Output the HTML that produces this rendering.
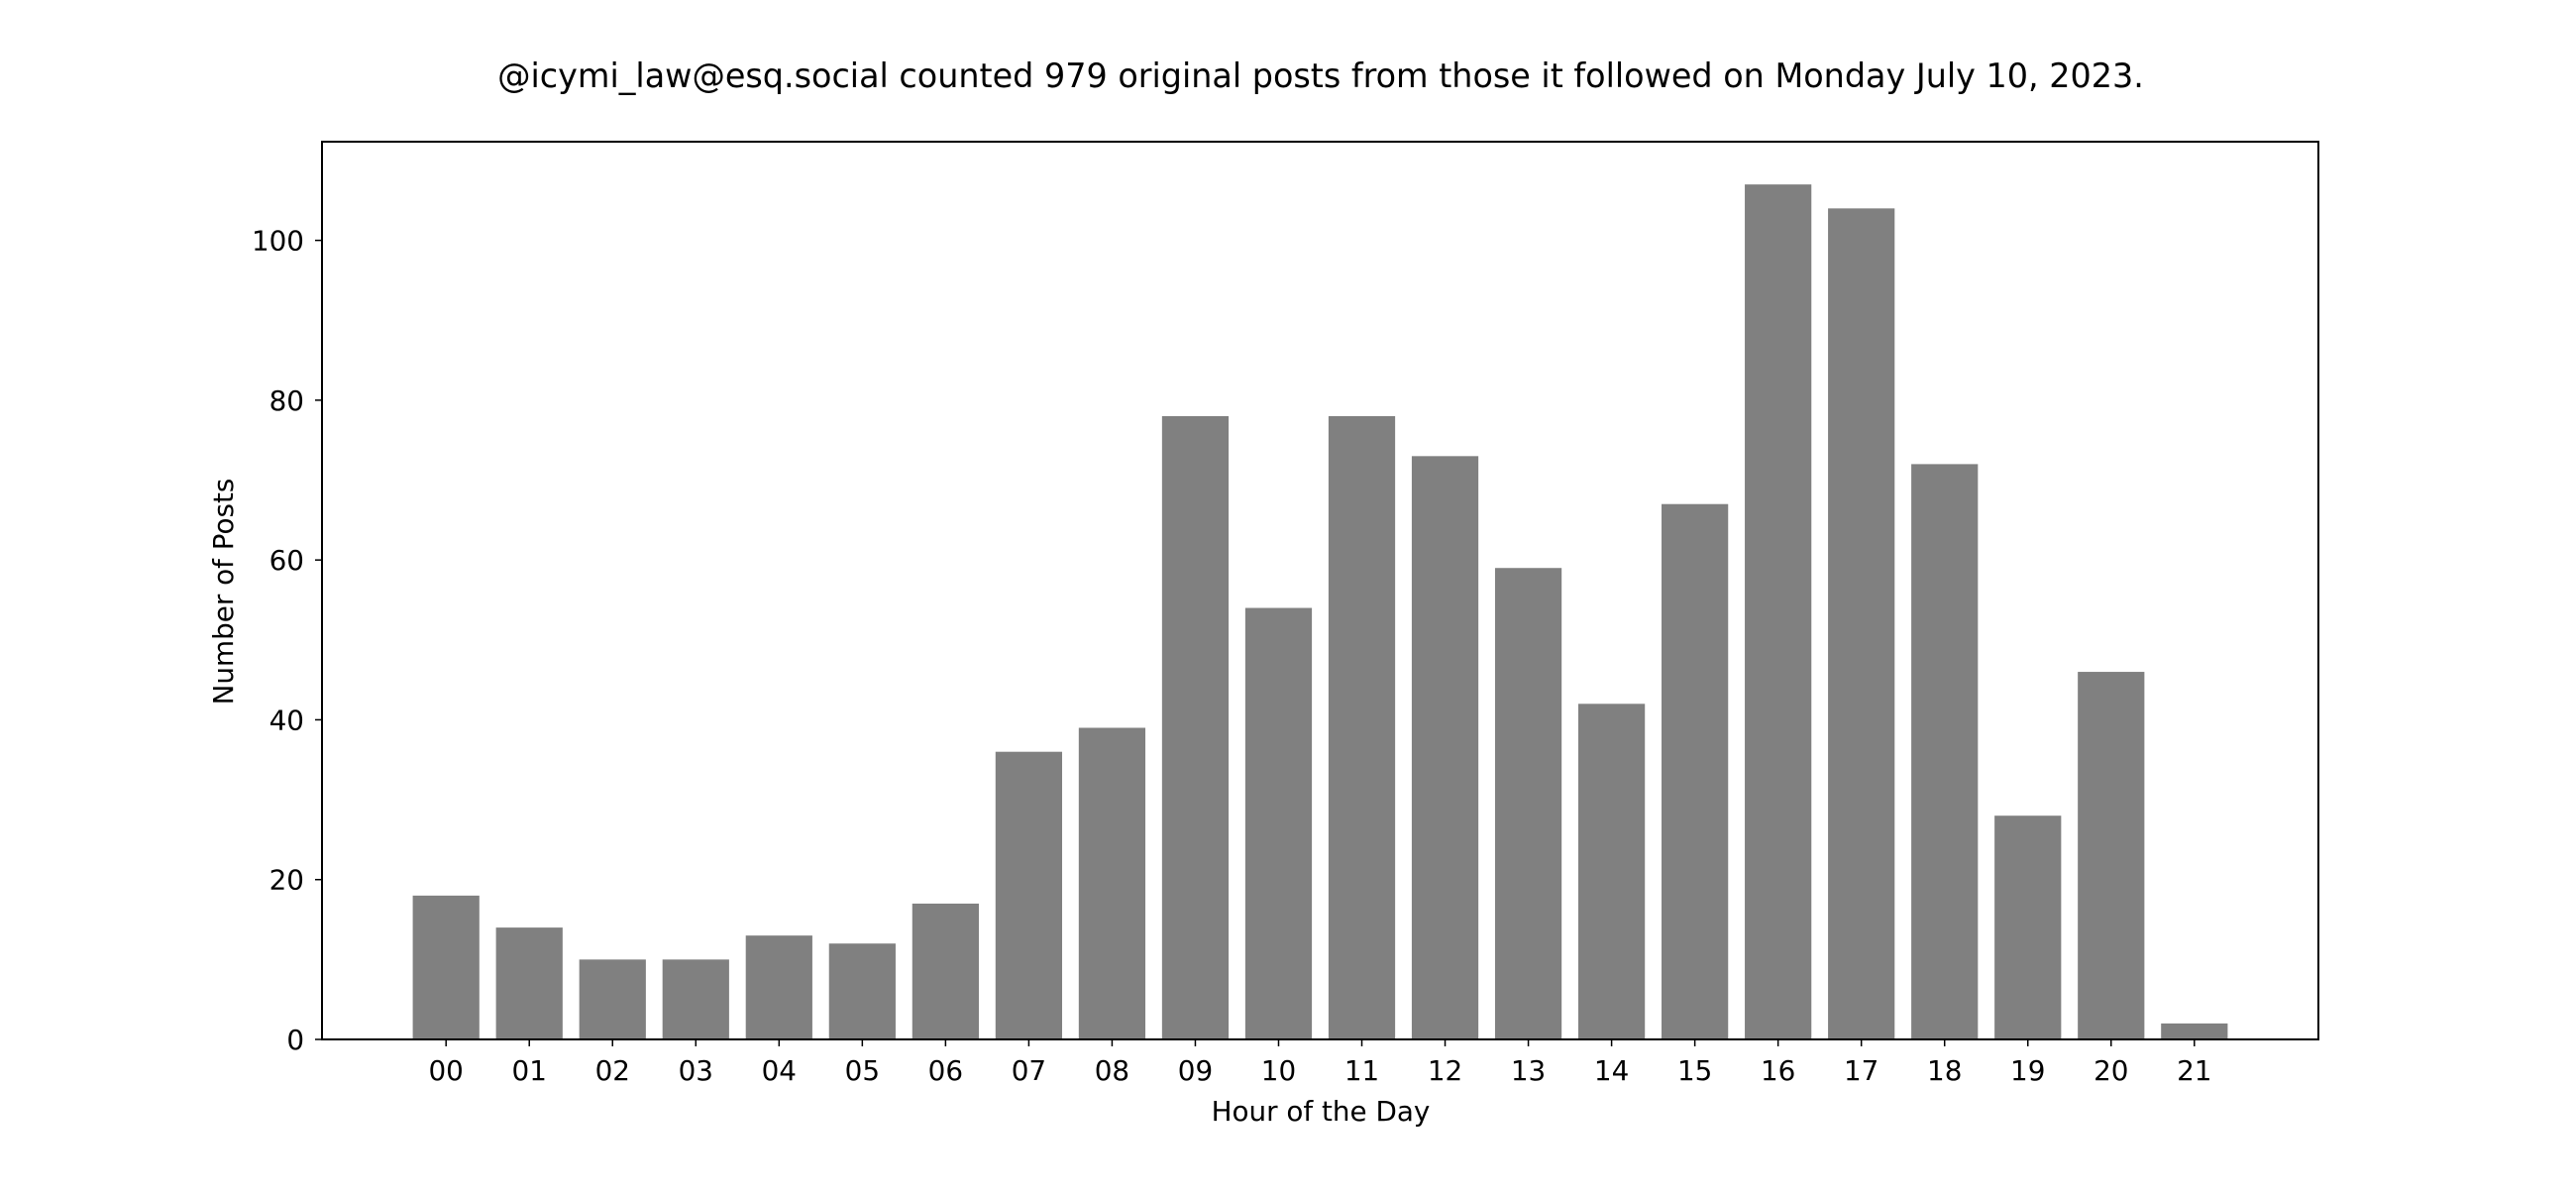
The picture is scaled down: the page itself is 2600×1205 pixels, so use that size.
<!DOCTYPE html>
<html><head><meta charset="utf-8"><style>
body{margin:0;background:#fff;}
svg text{font-family:"DejaVu Sans","Liberation Sans",sans-serif;fill:#000;}
</style></head><body>
<svg id="chart" width="2600" height="1200" xmlns="http://www.w3.org/2000/svg">
<rect width="2600" height="1200" fill="#fff"/>
<text x="1333" y="88" font-size="33.4" text-anchor="middle">@icymi_law@esq.social counted 979 original posts from those it followed on Monday July 10, 2023.</text>
<g id="bars"></g>
<g id="axes"></g>
<text x="1333" y="1131" font-size="27.8" text-anchor="middle">Hour of the Day</text>
<text transform="translate(235,597) rotate(-90)" font-size="27.8" text-anchor="middle">Number of Posts</text>
</svg>
<script>
const categories = ["00","01","02","03","04","05","06","07","08","09","10","11","12","13","14","15","16","17","18","19","20","21"];
const values = [18,14,10,10,13,12,17,36,39,78,54,78,73,59,42,67,107,104,72,28,46,2];
const yTicks = [0,20,40,60,80,100];

const L=325,R=2340,T=143,B=1049;
const xmin=-1.49,xmax=categories.length-1+1.49;
const ymax=Math.max(...values)*1.05;
const xs=i=>L+(i-xmin)/(xmax-xmin)*(R-L);
const ys=v=>B-v/ymax*(B-T);
const bw=0.8*(R-L)/(xmax-xmin);
const NS="http://www.w3.org/2000/svg";
const bars=document.getElementById('bars'), axes=document.getElementById('axes');
function mk(tag,attrs,parent){const e=document.createElementNS(NS,tag);for(const k in attrs)e.setAttribute(k,attrs[k]);parent.appendChild(e);return e;}
values.forEach((v,i)=>{
  const r=mk('rect',{x:xs(i)-bw/2,y:ys(v),width:bw,height:B-ys(v),fill:'#808080'},bars);
  
  
});
const frame=mk('rect',{x:L,y:T,width:R-L,height:B-T,fill:'none',stroke:'#000','stroke-width':2},axes);


categories.forEach((c,i)=>{
  mk('line',{x1:xs(i),x2:xs(i),y1:B,y2:B+7,stroke:'#000','stroke-width':1.5},axes);
  const t=mk('text',{x:xs(i),y:B+41,'font-size':27.8,'text-anchor':'middle'},axes);
  t.textContent=c;
  
  
});
yTicks.forEach(v=>{
  mk('line',{x1:L-7,x2:L,y1:ys(v),y2:ys(v),stroke:'#000','stroke-width':1.5},axes);
  const t=mk('text',{x:L-18,y:ys(v)+10,'font-size':27.8,'text-anchor':'end'},axes);
  t.textContent=v;
  
  
});
</script>
</body></html>
